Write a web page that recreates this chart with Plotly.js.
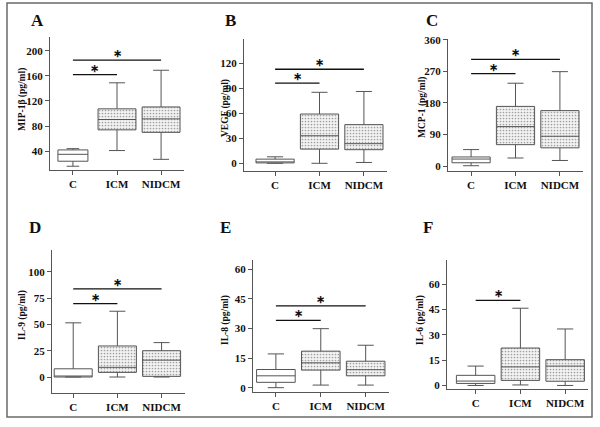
<!DOCTYPE html>
<html>
<head>
<meta charset="utf-8">
<script src="https://cdn.plot.ly/plotly-3.0.1.min.js"></script>
<style>html,body{margin:0;padding:0;background:#fff;}#chart{width:600px;height:427px;}</style>
</head>
<body>
<div id="chart"></div>
<script>
// ---------- data ----------
const categories = ['C', 'ICM', 'NIDCM'];

const mipLower  = [16, 41, 27];
const mipQ1     = [24, 74, 70];
const mipMedian = [35, 90.5, 91.5];
const mipQ3     = [42, 107.5, 110.5];
const mipUpper  = [44, 149, 169];
const mipSig    = [162, 185];
const mipTicks  = [40, 80, 120, 160, 200];

const vegfLower  = [0, 0, 1];
const vegfQ1     = [0.5, 17, 16.3];
const vegfMedian = [1.5, 33, 23.5];
const vegfQ3     = [5, 59, 46.3];
const vegfUpper  = [7.8, 85, 86];
const vegfSig    = [96, 112.6];
const vegfTicks  = [0, 30, 60, 90, 120];

const mcpLower  = [1, 23, 16];
const mcpQ1     = [9.5, 61, 52];
const mcpMedian = [20, 112.5, 85];
const mcpQ3     = [26, 170, 158];
const mcpUpper  = [47, 236, 269];
const mcpSig    = [263.5, 304];
const mcpTicks  = [0, 90, 180, 270, 360];

const il9Lower  = [0, 0, 0];
const il9Q1     = [0, 4.4, 0.6];
const il9Median = [0, 9.2, 16];
const il9Q3     = [7.8, 29.5, 25];
const il9Upper  = [51.5, 62.5, 32.7];
const il9Sig    = [69.8, 83.7];
const il9Ticks  = [0, 25, 50, 75, 100];

const il8Lower  = [0, 1.3, 1.3];
const il8Q1     = [2.7, 8.9, 6];
const il8Median = [6, 12.6, 9.1];
const il8Q3     = [9.2, 18.5, 13.4];
const il8Upper  = [17.1, 29.9, 21.5];
const il8Sig    = [34.1, 41.5];
const il8Ticks  = [0, 15, 30, 45, 60];

const il6Lower  = [0, 0.3, 0];
const il6Q1     = [1.2, 3, 2.5];
const il6Median = [2.6, 11, 11.5];
const il6Q3     = [6, 22.2, 15.3];
const il6Upper  = [11.5, 45.8, 33.5];
const il6Sig    = [50.5];
const il6Ticks  = [0, 15, 30, 45, 60];

const sigPairs = [['C', 'ICM'], ['C', 'NIDCM']];
const panelLetters = ['A', 'B', 'C', 'D', 'E', 'F'];
const yTitles = ['MIP-1β (pg/ml)', 'VEGF (pg/ml)', 'MCP-1 (pg/ml)', 'IL-9 (pg/ml)', 'IL-8 (pg/ml)', 'IL-6 (pg/ml)'];

const panels = [
  {lower: mipLower, q1: mipQ1, median: mipMedian, q3: mipQ3, upper: mipUpper, sig: mipSig, ticks: mipTicks},
  {lower: vegfLower, q1: vegfQ1, median: vegfMedian, q3: vegfQ3, upper: vegfUpper, sig: vegfSig, ticks: vegfTicks},
  {lower: mcpLower, q1: mcpQ1, median: mcpMedian, q3: mcpQ3, upper: mcpUpper, sig: mcpSig, ticks: mcpTicks},
  {lower: il9Lower, q1: il9Q1, median: il9Median, q3: il9Q3, upper: il9Upper, sig: il9Sig, ticks: il9Ticks},
  {lower: il8Lower, q1: il8Q1, median: il8Median, q3: il8Q3, upper: il8Upper, sig: il8Sig, ticks: il8Ticks},
  {lower: il6Lower, q1: il6Q1, median: il6Median, q3: il6Q3, upper: il6Upper, sig: il6Sig, ticks: il6Ticks}
];

// ---------- geometry (pixels in the 600x427 figure) ----------
const geo = [
  {px: [50, 184],  py: [37, 170],  xr: [-0.52, 2.52], yr: [10, 222],     tt: [22, 100],  lt: [37, 20],   cw: 0.68},
  {px: [244, 387], py: [39, 171],  xr: [-0.70, 2.52], yr: [-9.2, 148.8], tt: [225, 108], lt: [230, 20],  cw: 0.86},
  {px: [448, 583], py: [39, 171],  xr: [-0.52, 2.52], yr: [-14, 362],    tt: [422, 108], lt: [432, 20],  cw: 0.86},
  {px: [52, 185],  py: [250, 393], xr: [-0.48, 2.53], yr: [-15.2, 120.7],tt: [22, 315],  lt: [35, 227],  cw: 0.86},
  {px: [253, 389], py: [260, 392], xr: [-0.51, 2.52], yr: [-2.2, 64.7],  tt: [225, 320], lt: [225, 227], cw: 0.86},
  {px: [447, 588], py: [260, 389], xr: [-0.64, 2.51], yr: [-2.1, 74.4],  tt: [420, 320], lt: [428, 227], cw: 0.86}
];

const W = 600, H = 427;
const fx = p => p / W;
const fy = p => 1 - p / H;
const SERIF = 'Liberation Serif';
const AXC = '#555';

const data = [];
const layout = {
  width: W, height: H,
  margin: {l: 0, r: 0, t: 0, b: 0},
  paper_bgcolor: '#fff', plot_bgcolor: '#fff',
  showlegend: false,
  barmode: 'overlay',
  boxmode: 'overlay',
  font: {family: SERIF, color: '#111'},
  annotations: [],
  shapes: [{
    type: 'rect', xref: 'paper', yref: 'paper',
    x0: fx(7), x1: fx(592), y0: fy(417), y1: fy(3),
    line: {color: '#6a6a6a', width: 1.5}
  }]
};

panels.forEach((p, i) => {
  const g = geo[i];
  const n = i === 0 ? '' : String(i + 1);
  const xa = 'x' + n, ya = 'y' + n;

  // stippled fill for the patient groups (box body = q1..q3)
  const patIdx = [1, 2];
  data.push({
    type: 'bar', xaxis: xa, yaxis: ya,
    x: patIdx.map(k => categories[k]),
    base: patIdx.map(k => p.q1[k]),
    y: patIdx.map(k => p.q3[k] - p.q1[k]),
    width: 0.86,
    marker: {
      color: '#ffffff',
      line: {width: 0},
      pattern: {shape: '.', fgcolor: '#a0a0a0', bgcolor: '#f3f3f3', size: 3, solidity: 0.25}
    },
    hoverinfo: 'skip'
  });

  categories.forEach((cat, k) => {
    data.push({
      type: 'box', xaxis: xa, yaxis: ya,
      name: cat,
      x: [cat],
      q1: [p.q1[k]], median: [p.median[k]], q3: [p.q3[k]],
      lowerfence: [p.lower[k]], upperfence: [p.upper[k]],
      width: k === 0 ? g.cw : 0.86,
      whiskerwidth: 0.42,
      boxpoints: false,
      fillcolor: k === 0 ? '#ffffff' : 'rgba(0,0,0,0)',
      line: {color: AXC, width: 1}
    });
  });

  // significance bars
  p.sig.forEach((lvl, s) => {
    const pair = sigPairs[s];
    data.push({
      type: 'scatter', mode: 'lines', xaxis: xa, yaxis: ya,
      x: pair, y: [lvl, lvl],
      line: {color: '#111', width: 1.3},
      hoverinfo: 'skip'
    });
    const a = categories.indexOf(pair[0]), b = categories.indexOf(pair[1]);
    layout.annotations.push({
      xref: xa, yref: ya, x: (a + b) / 2, y: lvl,
      text: '\u2217', showarrow: false, yanchor: 'bottom', yshift: -1,
      font: {family: SERIF, size: 10.5, color: '#111', weight: 'bold'}
    });
  });

  layout['xaxis' + n] = {
    domain: [fx(g.px[0]), fx(g.px[1])],
    anchor: ya,
    type: 'category',
    categoryorder: 'array', categoryarray: categories,
    range: g.xr,
    showline: true, linecolor: AXC, linewidth: 1,
    ticks: 'outside', ticklen: 4, tickcolor: AXC, tickwidth: 1,
    showgrid: false, zeroline: false,
    tickfont: {family: SERIF, size: 11, color: '#111', weight: 'bold'},
    fixedrange: true
  };
  layout['yaxis' + n] = {
    domain: [fy(g.py[1]), fy(g.py[0])],
    anchor: xa,
    range: g.yr,
    tickmode: 'array', tickvals: p.ticks,
    showline: true, linecolor: AXC, linewidth: 1,
    ticks: 'outside', ticklen: 4, tickcolor: AXC, tickwidth: 1,
    showgrid: false, zeroline: false,
    tickfont: {family: SERIF, size: 11, color: '#111', weight: 'bold'},
    fixedrange: true
  };

  // y-axis title
  layout.annotations.push({
    xref: 'paper', yref: 'paper', x: fx(g.tt[0]), y: fy(g.tt[1]),
    xanchor: 'center', yanchor: 'middle',
    text: yTitles[i], textangle: -90, showarrow: false,
    font: {family: SERIF, size: 9.5, color: '#111', weight: 'bold'}
  });
  // panel letter
  layout.annotations.push({
    xref: 'paper', yref: 'paper', x: fx(g.lt[0]), y: fy(g.lt[1]),
    xanchor: 'center', yanchor: 'middle',
    text: panelLetters[i], showarrow: false,
    font: {family: SERIF, size: 17, color: '#111', weight: 'bold'}
  });
});

Plotly.newPlot('chart', data, layout, {displayModeBar: false, staticPlot: true});
</script>
</body>
</html>
